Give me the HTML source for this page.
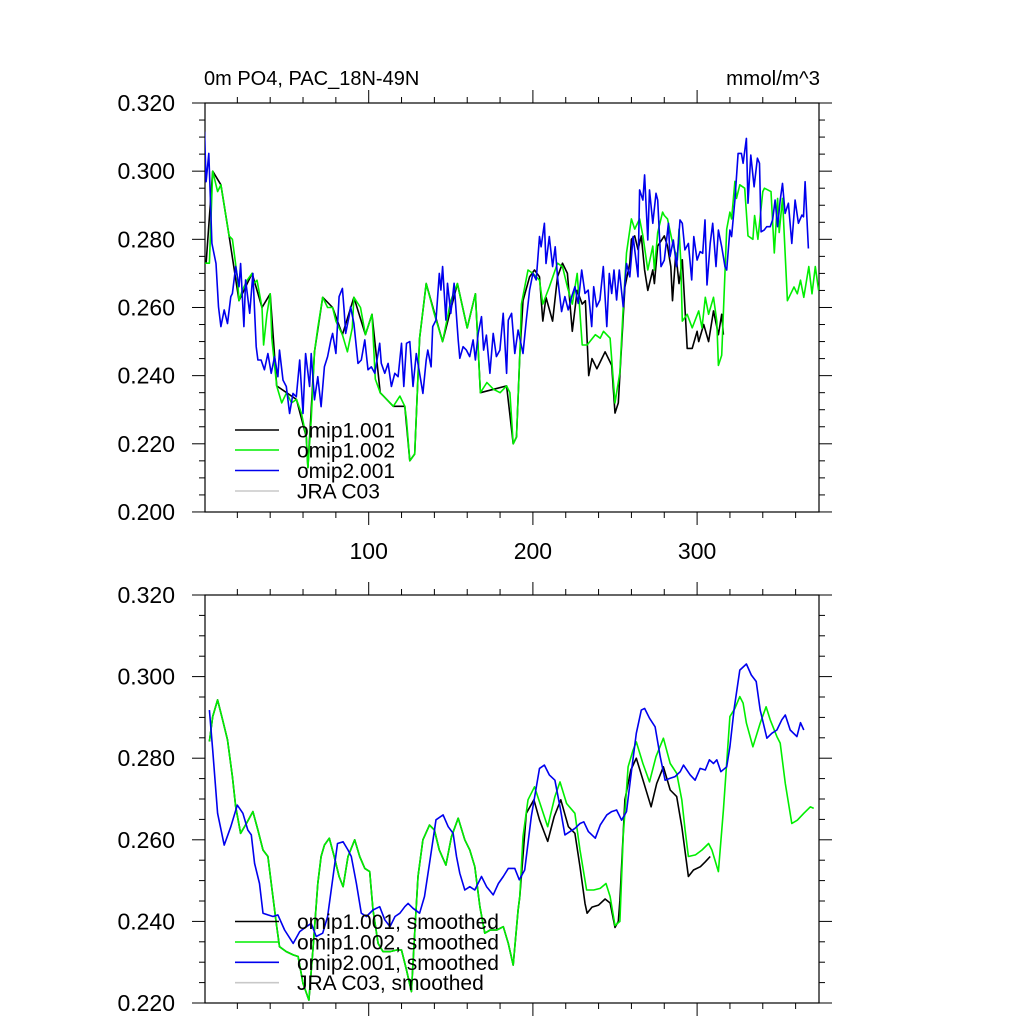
<!DOCTYPE html>
<html><head><meta charset="utf-8"><style>
html,body{margin:0;padding:0;background:#fff;}
svg{display:block;font-family:"Liberation Sans",Arial,sans-serif;}
</style></head><body>
<svg id="chart" width="1024" height="1024" viewBox="0 0 1024 1024" xmlns="http://www.w3.org/2000/svg">
<defs>
<clipPath id="clipTop"><rect x="205" y="103" width="614" height="409"/></clipPath>
<clipPath id="clipBot"><rect x="205" y="595" width="614" height="408"/></clipPath>
</defs>
<g id="axes"></g>
<g id="series"></g>
<text x="204" y="85" font-size="20" fill="#000">0m PO4, PAC_18N-49N</text>
<text x="820" y="85" font-size="20.5" text-anchor="end" fill="#000">mmol/m^3</text>
<g id="legends"></g>
</svg>
<script>
// ---------- data: top panel ----------
const greenTopX=[0,3,5,8,10,12,13,15,17,20,21,23,26,29,30,32,35,36,38,40,41,44,47,50,53,56,59,62,63,65,67,69,72,75,78,80,84,87,90,91,95,98,102,104,107,111,115,119,122,123,125,128,131,135,140,145,150,154,160,165,168,172,176,180,184,186,188,190,192,193,197,200,204,206,210,215,218,221,224,227,230,233,238,241,243,247,250,253,255,257,260,262,265,267,270,273,274,276,279,280,282,285,288,289,290,291,294,297,301,303,305,307,310,312,313,315,318,320,321,323,324,326,329,331,334,335,337,340,341,345,347,349,350,352,355,357,359,361,363,365,368,370,372,374];
const greenTopV=[0.273,0.273,0.300,0.294,0.296,0.290,0.287,0.281,0.280,0.269,0.262,0.265,0.268,0.270,0.267,0.268,0.260,0.249,0.258,0.264,0.251,0.237,0.232,0.235,0.232,0.233,0.229,0.222,0.213,0.227,0.247,0.254,0.263,0.260,0.260,0.256,0.252,0.247,0.254,0.263,0.260,0.252,0.258,0.239,0.235,0.233,0.231,0.234,0.231,0.227,0.215,0.217,0.251,0.267,0.258,0.250,0.262,0.267,0.254,0.264,0.235,0.238,0.236,0.235,0.237,0.235,0.220,0.222,0.246,0.261,0.271,0.270,0.268,0.261,0.266,0.273,0.272,0.266,0.261,0.270,0.249,0.249,0.252,0.251,0.253,0.251,0.232,0.241,0.260,0.276,0.286,0.283,0.286,0.281,0.271,0.278,0.271,0.282,0.288,0.287,0.286,0.279,0.274,0.283,0.274,0.256,0.258,0.254,0.259,0.254,0.263,0.258,0.263,0.256,0.243,0.246,0.283,0.288,0.286,0.297,0.292,0.296,0.295,0.281,0.280,0.287,0.280,0.294,0.295,0.294,0.276,0.292,0.282,0.292,0.262,0.264,0.266,0.264,0.268,0.263,0.272,0.264,0.272,0.265];
const blackTopX=[1,5,10,15,21,29,35,40,44,50,56,62,63,67,72,78,84,91,98,102,107,115,122,125,128,131,135,145,154,160,165,168,176,184,188,190,192,194,198,201,204,206,208,212,215,218,221,224,227,230,232,234,236,239,241,244,247,248,250,252,256,259,260,262,264,266,268,270,273,274,276,280,282,284,285,287,289,291,294,297,300,301,304,307,310,313,315,316];
const blackTopV=[0.273,0.300,0.296,0.281,0.262,0.270,0.260,0.264,0.237,0.235,0.233,0.222,0.213,0.247,0.263,0.260,0.252,0.263,0.252,0.258,0.235,0.231,0.231,0.215,0.217,0.251,0.267,0.250,0.267,0.254,0.264,0.235,0.236,0.237,0.220,0.222,0.246,0.262,0.269,0.271,0.269,0.256,0.263,0.256,0.269,0.273,0.270,0.253,0.265,0.261,0.262,0.240,0.245,0.242,0.244,0.247,0.244,0.243,0.229,0.232,0.266,0.273,0.280,0.281,0.277,0.281,0.271,0.265,0.271,0.267,0.278,0.281,0.278,0.272,0.262,0.276,0.267,0.274,0.248,0.248,0.253,0.250,0.255,0.250,0.259,0.252,0.258,0.252];
const blueTopX=[0,1,2.6,3.5,4.5,7,8.5,10,12,14,16,17,19,21,22,24,25,27.5,29.5,31.5,32.5,34.5,36.5,38.6,40.6,42.7,44.7,45.7,47.8,49.8,51.8,53.9,55.9,58,60,61.6,64,65,67,69,71,73,75,77,78,80,82,84,85,86,88,89,91,93.5,95.5,97.6,99.6,101.6,103.7,105.7,106.7,107.7,109.8,111.8,113.8,115.9,117.9,120,121.4,123,125,127,129,131,133,135,136,138,139,141,143,144,145,147,148,150,152,154.5,155.5,157.5,159.5,161.5,163.6,165,166.7,168.7,170,171.7,173.8,175.8,177.8,179.9,181.9,184,185,187,189,191,194,196,198,200,202,204,205,207,208,210,212,213.6,215,217.5,219.5,221.5,223.6,225.6,227.6,229.7,231.7,233.7,235.8,237,238.8,240.8,242.9,245,246.5,248,249.4,251,252.6,255,257,259,261,264,265,267,268,270,271,273,275,276,278,280,282.5,283.5,285.5,287.5,289.6,291,292.6,294.7,296.7,298,300,301.8,303.4,304.8,306,308,309.5,311.5,313,315,317,318,320,321,323,325,327,328,330,331,332.7,334.7,336.7,338,339,340.8,342.4,344.5,346,347.5,349,350.6,352,353.6,355.6,357.7,359.7,361.7,363.8,364.8,365.8,367.8];
const blueTopV=[0.3116,0.2969,0.3052,0.2935,0.2788,0.2729,0.2602,0.2544,0.2593,0.2553,0.2632,0.2641,0.2720,0.2661,0.2729,0.2544,0.2681,0.2583,0.2700,0.2485,0.2446,0.2446,0.2417,0.2465,0.2407,0.2456,0.2397,0.2475,0.2387,0.2368,0.2289,0.2348,0.2338,0.2446,0.2289,0.2465,0.2368,0.2465,0.2329,0.2397,0.2309,0.2426,0.2456,0.2505,0.2524,0.2465,0.2632,0.2656,0.2593,0.2524,0.2573,0.2602,0.2553,0.2436,0.2446,0.2505,0.2417,0.2426,0.2407,0.2465,0.2495,0.2436,0.2407,0.2436,0.2368,0.2407,0.2397,0.2495,0.2368,0.2495,0.2500,0.2368,0.2465,0.2407,0.2348,0.2446,0.2475,0.2426,0.2544,0.2563,0.2700,0.2651,0.2720,0.2563,0.2671,0.2583,0.2671,0.2505,0.2451,0.2485,0.2475,0.2456,0.2505,0.2446,0.2524,0.2573,0.2475,0.2519,0.2407,0.2524,0.2456,0.2475,0.2583,0.2407,0.2563,0.2583,0.2465,0.2534,0.2465,0.2563,0.2651,0.2700,0.2681,0.2808,0.2778,0.2847,0.2729,0.2808,0.2720,0.2778,0.2690,0.2588,0.2632,0.2593,0.2632,0.2661,0.2612,0.2710,0.2641,0.2651,0.2544,0.2661,0.2602,0.2622,0.2720,0.2544,0.2700,0.2641,0.2710,0.2622,0.2710,0.2602,0.2729,0.2690,0.2808,0.2690,0.2945,0.2915,0.2989,0.2798,0.2945,0.2847,0.2935,0.2915,0.2720,0.2739,0.2847,0.2749,0.2798,0.2720,0.2857,0.2847,0.2769,0.2788,0.2681,0.2808,0.2739,0.2764,0.2759,0.2857,0.2666,0.2788,0.2847,0.2720,0.2827,0.2778,0.2720,0.2710,0.2827,0.2808,0.2915,0.3052,0.3052,0.3023,0.3096,0.2906,0.3047,0.2954,0.3038,0.3023,0.2822,0.2827,0.2837,0.2837,0.2857,0.2915,0.2837,0.2915,0.2964,0.2876,0.2906,0.2788,0.2915,0.2847,0.2871,0.2866,0.2969,0.2773];
// ---------- data: bottom panel (smoothed) ----------
const greenBotX=[3,5,8,11,14,17,19,22,25.5,29.5,32.5,35.6,38.6,40.6,43.7,45.7,49.8,54,57,60,63.6,66,69,71,73,76,79,82,84.4,87.4,91.5,94.5,97.6,100.6,102.6,105.7,108.7,113,117,120,123,126,128,130,133,137,140,143,147,150.4,154.5,158.5,161.6,164.6,167.7,170.7,174,178,182,185,188,191,192,194,197,201,205,209,213.4,216.5,220.5,225.6,228.7,232.7,237,241,244.5,247,250,253,255,258,261,263,267,271,275,279.5,283.6,287.6,290.7,292.7,294.7,299,303,307,309,313,316,320,323,326,328,330,334,338.4,342,344.5,348.6,350.6,353.7,357.7,361,365,369,371];
const greenBotV=[0.2841,0.2902,0.2943,0.2894,0.2845,0.2755,0.2681,0.2616,0.2640,0.2669,0.2624,0.2575,0.2559,0.2494,0.2395,0.2338,0.2326,0.2318,0.2314,0.2248,0.2207,0.2330,0.2493,0.2559,0.2587,0.2604,0.2559,0.2510,0.2485,0.2559,0.2600,0.2559,0.2530,0.2522,0.2428,0.2346,0.2326,0.2326,0.2330,0.2330,0.2281,0.2228,0.2371,0.2510,0.2600,0.2636,0.2624,0.2575,0.2538,0.2608,0.2653,0.2600,0.2575,0.2534,0.2436,0.2371,0.2379,0.2379,0.2387,0.2346,0.2293,0.2428,0.2461,0.2608,0.2698,0.2730,0.2681,0.2632,0.2706,0.2742,0.2689,0.2665,0.2575,0.2477,0.2477,0.2481,0.2493,0.2461,0.2390,0.2400,0.2608,0.2779,0.2820,0.2840,0.2787,0.2742,0.2804,0.2849,0.2787,0.2763,0.2698,0.2624,0.2559,0.2563,0.2575,0.2591,0.2575,0.2522,0.2673,0.2902,0.2922,0.2951,0.2935,0.2886,0.2828,0.2886,0.2926,0.2894,0.2853,0.2837,0.2738,0.2640,0.2648,0.2665,0.2681,0.2677];
const blackBotX=[3,5,8,11,14,17,19,22,25.5,29.5,32.5,35.6,38.6,40.6,43.7,45.7,49.8,54,57,60,63.6,66,69,71,73,76,79,82,84.4,87.4,91.5,94.5,97.6,100.6,102.6,105.7,108.7,113,117,120,123,126,128,130,133,137,140,143,147,150.4,154.5,158.5,161.6,164.6,167.7,170.7,174,178,182,185,188,191,192,196,200.6,204,209,213,217,221.6,225.6,228.7,231.7,233,236,240,244,247,250,252,253,256,259.6,263,267,272,275.4,279.5,283.6,287.6,290.7,294.7,297.8,302,305,308];
const blackBotV=[0.2841,0.2902,0.2943,0.2894,0.2845,0.2755,0.2681,0.2616,0.2640,0.2669,0.2624,0.2575,0.2559,0.2494,0.2395,0.2338,0.2326,0.2318,0.2314,0.2248,0.2207,0.2330,0.2493,0.2559,0.2587,0.2604,0.2559,0.2510,0.2485,0.2559,0.2600,0.2559,0.2530,0.2522,0.2428,0.2346,0.2326,0.2326,0.2330,0.2330,0.2281,0.2228,0.2371,0.2510,0.2600,0.2636,0.2624,0.2575,0.2538,0.2608,0.2653,0.2600,0.2575,0.2534,0.2436,0.2371,0.2379,0.2379,0.2387,0.2346,0.2293,0.2428,0.2461,0.2665,0.2698,0.2649,0.2596,0.2657,0.2698,0.2632,0.2616,0.2534,0.2444,0.2420,0.2435,0.2440,0.2455,0.2445,0.2385,0.2400,0.2452,0.2698,0.2771,0.2800,0.2747,0.2681,0.2738,0.2779,0.2722,0.2706,0.2632,0.2510,0.2526,0.2534,0.2546,0.2559];
const blueBotX=[3,5,8,12,16,20,23.4,26.4,28.5,30.5,33.5,35.6,38.6,41.7,44.7,48.8,54,58,62,65,68,72,75,78,81,84.4,87.4,89.4,92.5,95.5,98.6,102.6,106.7,109.8,113,116,119,122,124,127,131,134,137,141,145.3,148.4,151.4,153.5,155.5,158.5,161.6,164.6,168.7,171.8,175.8,179,182,185,189,191.7,195,199,204,207,210,213.4,216.5,219.5,222.6,225.6,228.7,231,233.8,238,241,245,248,251,254,257,260,263,266,268,271,274.4,277.5,280.5,283.6,286.6,289.7,291.7,295.8,298.8,301.8,305,307.5,310,312,314.5,318,320,322.6,326,330,333,336,338.4,342.5,345.5,348.6,351.6,353.7,356.7,360.8,363,365];
const blueBotV=[0.2918,0.2820,0.2665,0.2587,0.2632,0.2685,0.2665,0.2624,0.2612,0.2542,0.2493,0.2420,0.2416,0.2412,0.2416,0.2379,0.2346,0.2375,0.2387,0.2395,0.2363,0.2371,0.2412,0.2502,0.2591,0.2595,0.2575,0.2559,0.2493,0.2420,0.2412,0.2428,0.2436,0.2404,0.2387,0.2412,0.2420,0.2436,0.2444,0.2432,0.2420,0.2461,0.2542,0.2649,0.2661,0.2632,0.2616,0.2559,0.2518,0.2477,0.2485,0.2477,0.2510,0.2485,0.2465,0.2493,0.2510,0.2530,0.2530,0.2502,0.2526,0.2657,0.2775,0.2783,0.2759,0.2746,0.2681,0.2612,0.2620,0.2628,0.2640,0.2644,0.2620,0.2604,0.2636,0.2661,0.2669,0.2673,0.2648,0.2669,0.2767,0.2861,0.2918,0.2922,0.2898,0.2877,0.2804,0.2746,0.2751,0.2755,0.2767,0.2783,0.2759,0.2746,0.2775,0.2771,0.2796,0.2787,0.2796,0.2767,0.2779,0.2828,0.2922,0.3016,0.3031,0.3004,0.2988,0.2918,0.2849,0.2861,0.2869,0.2894,0.2906,0.2869,0.2853,0.2887,0.2869];
// ---------- axis config ----------
const xMajorTicks=[100,200,300];
const xTickLabels=["100","200","300"];
const topYTicks=[0.320,0.300,0.280,0.260,0.240,0.220,0.200];
const topYLabels=["0.320","0.300","0.280","0.260","0.240","0.220","0.200"];
const botYTicks=[0.320,0.300,0.280,0.260,0.240,0.220];
const botYLabels=["0.320","0.300","0.280","0.260","0.240","0.220"];

const NS="http://www.w3.org/2000/svg";
const X0=204.5, XS=1.642, LEFT=205, RIGHT=819;
function xScale(u){return X0+u*XS;}
function topY(v){return 103+(0.320-v)*3408;}
function botY(v){return 595+(0.320-v)*4080;}
function mk(tag,attrs,parent){const e=document.createElementNS(NS,tag);for(const k in attrs)e.setAttribute(k,attrs[k]);parent.appendChild(e);return e;}

const axes=document.getElementById('axes');
function panel(name,top,bottom,yFn,yTicks,yLabels,yMin,showXLabels){
  const g=mk('g',{},axes);
  
  
  const box=mk('rect',{x:LEFT,y:top,width:RIGHT-LEFT,height:bottom-top,fill:'none',stroke:'#000','stroke-width':1.2},g);
  
  
  for(let u=20;u<=370;u+=20){
    const px=xScale(u); const major=(u%100===0); const len=major?13:6;
    mk('line',{x1:px,x2:px,y1:bottom,y2:bottom+len,stroke:'#000','stroke-width':1},g);
    mk('line',{x1:px,x2:px,y1:top,y2:top-len,stroke:'#000','stroke-width':1},g);
  }
  if(showXLabels){
    xMajorTicks.forEach((t,i)=>{
      const tx=mk('text',{x:xScale(t),y:559,'font-size':23,'text-anchor':'middle',fill:'#000'},g);
      tx.textContent=xTickLabels[i];
      
      
    });
  }
  for(let k=0;;k++){
    const v=0.320-k*0.005; if(v<yMin-1e-9)break;
    const py=yFn(v); const major=(k%4===0); const len=major?13:6;
    mk('line',{x1:LEFT,x2:LEFT-len,y1:py,y2:py,stroke:'#000','stroke-width':1},g);
    mk('line',{x1:RIGHT,x2:RIGHT+len,y1:py,y2:py,stroke:'#000','stroke-width':1},g);
  }
  yTicks.forEach((t,i)=>{
    const tx=mk('text',{x:175,y:yFn(t)+8,'font-size':23,'text-anchor':'end',fill:'#000'},g);
    tx.textContent=yLabels[i];
    
    
  });
}
panel('top-panel',103,512,topY,topYTicks,topYLabels,0.200,true);
panel('bottom-panel',595,1003,botY,botYTicks,botYLabels,0.220,false);

const sg=document.getElementById('series');
function line(xs,vs,yFn,color,clip,name){
  let d='';
  for(let i=0;i<xs.length;i++){d+=(i?'L':'M')+xScale(xs[i]).toFixed(1)+','+yFn(vs[i]).toFixed(1);}
  const p=mk('path',{d:d,fill:'none',stroke:color,'stroke-width':1.6,'stroke-linejoin':'round','clip-path':'url(#'+clip+')'},sg);
  
  
}
line(blackTopX,blackTopV,topY,'#000','clipTop','omip1-001-line');
line(greenTopX,greenTopV,topY,'#00ee00','clipTop','omip1-002-line');
line(blueTopX,blueTopV,topY,'#0000ee','clipTop','omip2-001-line');
line(blackBotX,blackBotV,botY,'#000','clipBot','omip1-001-smoothed-line');
line(greenBotX,greenBotV,botY,'#00ee00','clipBot','omip1-002-smoothed-line');
line(blueBotX,blueBotV,botY,'#0000ee','clipBot','omip2-001-smoothed-line');

const lg=document.getElementById('legends');
const legendColors=['#000','#00ee00','#0000ee','#c8c8c8'];
const topNames=['omip1.001','omip1.002','omip2.001','JRA C03'];
const botNames=['omip1.001, smoothed','omip1.002, smoothed','omip2.001, smoothed','JRA C03, smoothed'];
function legend(names,ys,name){
  const g=mk('g',{},lg);
  
  
  names.forEach((n,i)=>{
    const e=mk('g',{},g);
    
    
    mk('line',{x1:235,x2:279,y1:ys[i],y2:ys[i],stroke:legendColors[i],'stroke-width':1.6},e);
    const t=mk('text',{x:297,y:ys[i]+7.5,'font-size':21,fill:'#000'},e);
    t.textContent=n;
  });
}
legend(topNames,[430,450,470.5,491],'top-legend');
legend(botNames,[921.5,942,962.3,982.7],'bottom-legend');
</script>
</body></html>
